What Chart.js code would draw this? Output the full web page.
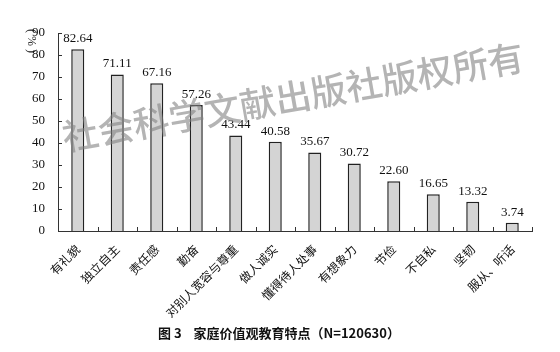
<!DOCTYPE html>
<html>
<head>
<meta charset="utf-8">
<script src="https://cdn.jsdelivr.net/npm/chart.js@4"></script>
<style>
  html, body { margin: 0; padding: 0; background: #fff; }
  #wrap { width: 560px; height: 352px; }
</style>
</head>
<body>
<div id="wrap"><canvas id="chart" width="560" height="352"></canvas></div>
<script>
const categories = ['有礼貌', '独立自主', '责任感', '勤奋', '对别人宽容与尊重', '做人诚实', '懂得待人处事', '有想象力', '节俭', '不自私', '坚韧', '服从、听话'];
const shares = [82.64, 71.11, 67.16, 57.26, 43.44, 40.58, 35.67, 30.72, 22.60, 16.65, 13.32, 3.74];
const yTicks = [0, 10, 20, 30, 40, 50, 60, 70, 80, 90];

const serif = "'Liberation Serif', 'DejaVu Serif', serif";
const cjk = "'Noto Sans CJK SC', sans-serif";

Chart.defaults.font.family = serif;

// value labels, inward ticks, unit label, watermark and caption
const decor = {
  id: 'decor',
  afterDatasetsDraw(chart) {
    const ctx = chart.ctx;
    const area = chart.chartArea;
    const x = chart.scales.x;
    const y = chart.scales.y;
    ctx.save();

    // inward ticks
    ctx.strokeStyle = '#333';
    ctx.lineWidth = 1;
    ctx.beginPath();
    yTicks.forEach(v => {
      const py = Math.round(y.getPixelForValue(v)) + 0.5;
      ctx.moveTo(area.left, py);
      ctx.lineTo(area.left + 4, py);
    });
    for (let i = 0; i < categories.length; i++) {
      const px = i < categories.length - 1
        ? (x.getPixelForValue(i) + x.getPixelForValue(i + 1)) / 2
        : area.right;
      const rx = Math.round(px) + 0.5;
      ctx.moveTo(rx, area.bottom);
      ctx.lineTo(rx, area.bottom - 4);
    }
    ctx.stroke();

    // value labels
    ctx.fillStyle = '#111';
    ctx.font = '13px ' + serif;
    ctx.textAlign = 'center';
    ctx.textBaseline = 'bottom';
    chart.getDatasetMeta(0).data.forEach((bar, i) => {
      ctx.fillText(shares[i].toFixed(2), bar.x, bar.y - 4);
    });

    // unit label
    ctx.save();
    ctx.translate(31, 41);
    ctx.rotate(Math.PI / 2);
    ctx.font = '12px ' + serif;
    ctx.textAlign = 'center';
    ctx.textBaseline = 'middle';
    ctx.fillText('( % )', 0, 0);
    ctx.restore();

    // watermark
    ctx.save();
    ctx.translate(293, 97);
    ctx.rotate(-10 * Math.PI / 180);
    ctx.font = '500 36px ' + cjk;
    ctx.fillStyle = 'rgba(130,130,130,0.6)';
    ctx.textAlign = 'center';
    ctx.textBaseline = 'middle';
    ctx.fillText('社会科学文献出版社版权所有', 0, 0);
    ctx.restore();

    // caption
    ctx.fillStyle = '#111';
    ctx.font = 'bold 13px ' + cjk;
    ctx.textAlign = 'center';
    ctx.textBaseline = 'middle';
    ctx.fillText('图 3    家庭价值观教育特点（N=120630）', 279, 333);

    ctx.restore();
  }
};

new Chart(document.getElementById('chart'), {
  type: 'bar',
  data: {
    labels: categories,
    datasets: [{
      data: shares,
      backgroundColor: '#d4d4d4',
      borderColor: '#222',
      borderWidth: 1.5,
      borderSkipped: 'bottom',
      categoryPercentage: 1,
      barPercentage: 0.33
    }]
  },
  options: {
    responsive: false,
    animation: false,
    devicePixelRatio: 1,
    layout: { padding: { top: 33, right: 28, left: 0, bottom: 0 } },
    plugins: { legend: { display: false }, tooltip: { enabled: false } },
    scales: {
      x: {
        grid: { display: false },
        border: { display: true, color: '#333', width: 1 },
        ticks: {
          color: '#111',
          font: { family: cjk, size: 12 },
          minRotation: 45,
          maxRotation: 45,
          autoSkip: false,
          padding: 3
        },
        afterFit(scale) { scale.height = 121; }
      },
      y: {
        min: 0,
        max: 90,
        grid: { display: false },
        border: { display: true, color: '#333', width: 1 },
        ticks: {
          stepSize: 10,
          color: '#111',
          font: { family: serif, size: 13 },
          padding: 5
        },
        afterFit(scale) { scale.width = 58; }
      }
    }
  },
  plugins: [decor]
});
</script>
</body>
</html>
